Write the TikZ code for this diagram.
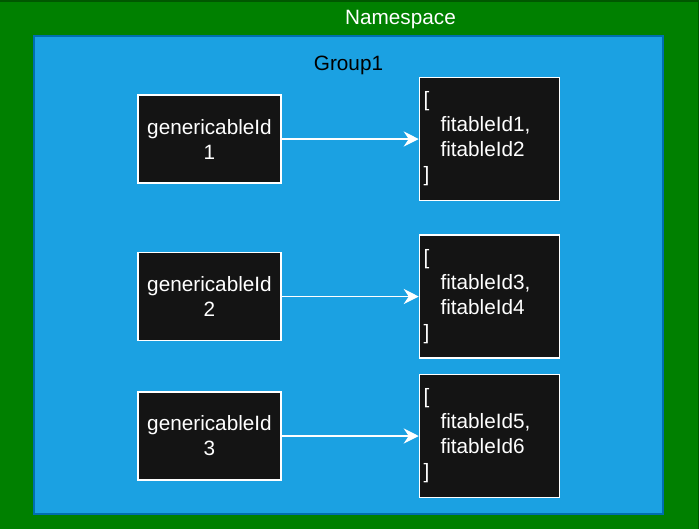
\documentclass[tikz,border=0pt]{standalone}
\usepackage{fontspec}
\setmainfont{Liberation Sans}
\usetikzlibrary{positioning,arrows.meta}
\definecolor{nsgreen}{HTML}{008000}
\definecolor{nsborder}{HTML}{005700}
\definecolor{groupblue}{HTML}{1BA1E2}
\definecolor{groupborder}{HTML}{006EAF}
\definecolor{boxdark}{HTML}{141414}

\begin{document}
\begin{tikzpicture}[
  container/.style={inner sep=0pt, outer sep=0pt},
  genbox/.style={draw=white, fill=boxdark, text=white, line width=0.85pt, minimum width=2.86cm, minimum height=1.76cm, inner sep=0pt, font=\fontsize{11.8}{14.2}\selectfont, align=center},
  listbox/.style={draw=white, fill=boxdark, text=white, line width=0.85pt, text width=2.64cm, minimum height=2.46cm, inner xsep=0.08cm, inner ysep=0pt, font=\fontsize{11.8}{14.2}\selectfont, align=left},
  link/.style={-{Stealth[length=3mm, width=3mm, inset=1mm]}, white, line width=0.85pt},
  title/.style={inner sep=0pt, font=\fontsize{11.8}{14.2}\selectfont}
]
\useasboundingbox (0,0) rectangle (13.98,-10.58);
\node[container, fill=nsgreen, minimum width=13.98cm, minimum height=10.58cm] (ns) at (6.99,-5.29) {};
\draw[nsborder, line width=2.2pt] (ns.north west) -- (ns.north east);
\draw[nsborder, line width=1.1pt] (ns.north east) -- (ns.south east);
\node[container, draw=groupborder, fill=groupblue, line width=0.9pt, minimum width=12.58cm, minimum height=9.56cm] (group1) at (6.97,-5.50) {};
\node[title, text=white] (nstitle) at (8.01,-0.40) {Namespace};
\node[title, text=black] (grouptitle) at (6.97,-1.30) {Group1};

\node[genbox] (gen1) at (4.19,-2.78) {genericableId\\1};
\node[genbox, below=1.36cm of gen1] (gen2) {genericableId\\2};
\node[genbox, below=1.0cm of gen2] (gen3) {genericableId\\3};

\node[listbox, right=2.74cm of gen1] (fit1) {[\\\hspace*{0.34cm}fitableId1,\\\hspace*{0.34cm}fitableId2\\]};
\node[listbox, right=2.74cm of gen2] (fit2) {[\\\hspace*{0.34cm}fitableId3,\\\hspace*{0.34cm}fitableId4\\]};
\node[listbox, right=2.74cm of gen3] (fit3) {[\\\hspace*{0.34cm}fitableId5,\\\hspace*{0.34cm}fitableId6\\]};

\draw[link] (gen1) -- (fit1);
\draw[link] (gen2) -- (fit2);
\draw[link] (gen3) -- (fit3);
\end{tikzpicture}
\end{document}
